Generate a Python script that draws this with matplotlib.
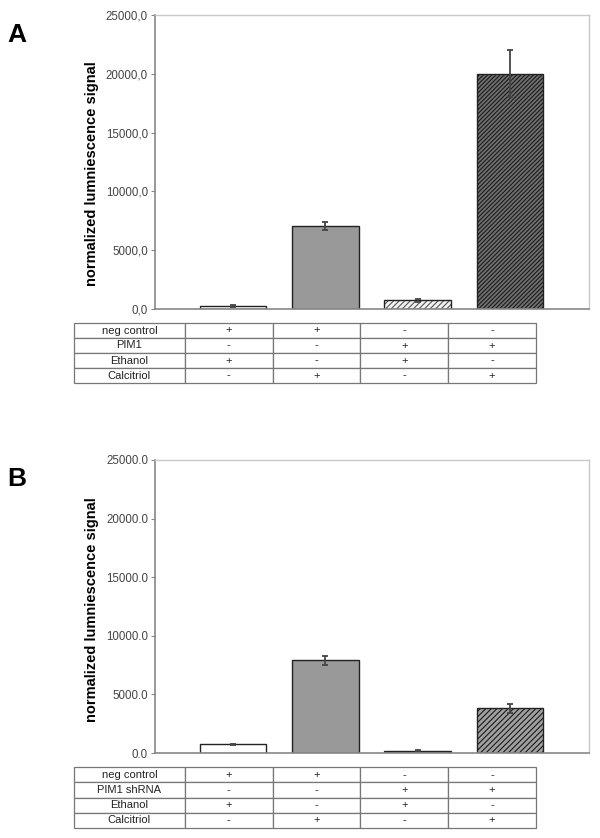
import matplotlib
matplotlib.use("Agg")
import matplotlib.pyplot as plt

plt.rcParams['font.family'] = ['Liberation Sans', 'DejaVu Sans']
plt.rcParams['hatch.linewidth'] = 0.8

# Data
conditions = ['1', '2', '3', '4']
values_a = [250, 7050, 750, 20000]
errors_a = [60, 350, 120, 2000]
values_b = [750, 7900, 200, 3800]
errors_b = [40, 400, 80, 400]

row_labels_a = ['neg control', 'PIM1', 'Ethanol', 'Calcitriol']
row_labels_b = ['neg control', 'PIM1 shRNA', 'Ethanol', 'Calcitriol']
signs = [['+', '+', '-', '-'],
         ['-', '-', '+', '+'],
         ['+', '-', '+', '-'],
         ['-', '+', '-', '+']]
yticks = [0, 5000, 10000, 15000, 20000, 25000]

W, H = 600, 838
fig = plt.figure(figsize=(W / 100, H / 100), dpi=100)


def px(x0, y0, x1, y1):
    return [x0 / W, 1 - y1 / H, (x1 - x0) / W, (y1 - y0) / H]


def draw_panel(rect, table_rect, values, errors, labels, sep, letter, letter_y,
               styles, label_y):
    ax = fig.add_axes(px(*rect))
    x = list(range(len(values)))
    for i in x:
        fc, hatch, ec_h = styles[i]
        ax.bar(i, values[i], width=0.72, color=fc, edgecolor=ec_h, hatch=hatch,
               linewidth=0)
        ax.bar(i, values[i], width=0.72, fill=False, edgecolor='#222222', linewidth=1.0)
    ax.errorbar(x, values, yerr=errors, fmt='none', ecolor='#444444',
                elinewidth=1.3, capsize=2.5, capthick=1.3)
    ax.set_xlim(-0.845, 3.856)
    ax.set_ylim(0, 25000)
    ax.set_yticks(yticks)
    ax.set_yticklabels([f'{v:.1f}'.replace('.', sep) for v in yticks],
                       fontsize=8.3, color='#444444')
    ax.set_xticks([])
    ax.tick_params(axis='y', length=3, color='#888888', pad=2)
    for s in ['left', 'bottom']:
        ax.spines[s].set_color('#888888')
        ax.spines[s].set_linewidth(1.2)
    for s in ['top', 'right']:
        ax.spines[s].set_color('#c8c8c8')
        ax.spines[s].set_linewidth(1.0)
    ax.set_ylabel('normalized lumniescence signal', fontsize=10.5, fontweight='bold')
    ax.yaxis.set_label_coords(-0.128, label_y)
    fig.text(7 / W, 1 - letter_y / H, letter, fontsize=19, fontweight='bold',
             va='center', ha='left')

    tax = fig.add_axes(px(*table_rect))
    tax.axis('off')
    cells = [[labels[r]] + signs[r] for r in range(len(labels))]
    tab = tax.table(cellText=cells, cellLoc='center', bbox=[0, 0, 1, 1],
                    colWidths=[111, 88, 88, 88, 88])
    tab.auto_set_font_size(False)
    tab.set_fontsize(8)
    for (r, c), cell in tab.get_celld().items():
        cell.set_edgecolor('#777777')
        cell.set_linewidth(0.9)
        cell.get_text().set_color('#222222')
    return ax


styles_a = [('white', None, '#222222'),
            ('#999999', None, '#222222'),
            ('#f2f2f2', '//////', '#555555'),
            ('#707070', '////////', '#1a1a1a')]
styles_b = [('white', None, '#222222'),
            ('#999999', None, '#222222'),
            ('#888888', '......', '#111111'),
            ('#a0a0a0', '//////', '#1a1a1a')]

draw_panel((155, 15, 589, 309), (74, 323, 536, 383), values_a, errors_a,
           row_labels_a, ',', 'A', 35, styles_a, 0.46)
draw_panel((155, 460, 589, 753), (74, 767, 536, 828), values_b, errors_b,
           row_labels_b, '.', 'B', 479, styles_b, 0.49)

fig.savefig('out.png', dpi=100)
